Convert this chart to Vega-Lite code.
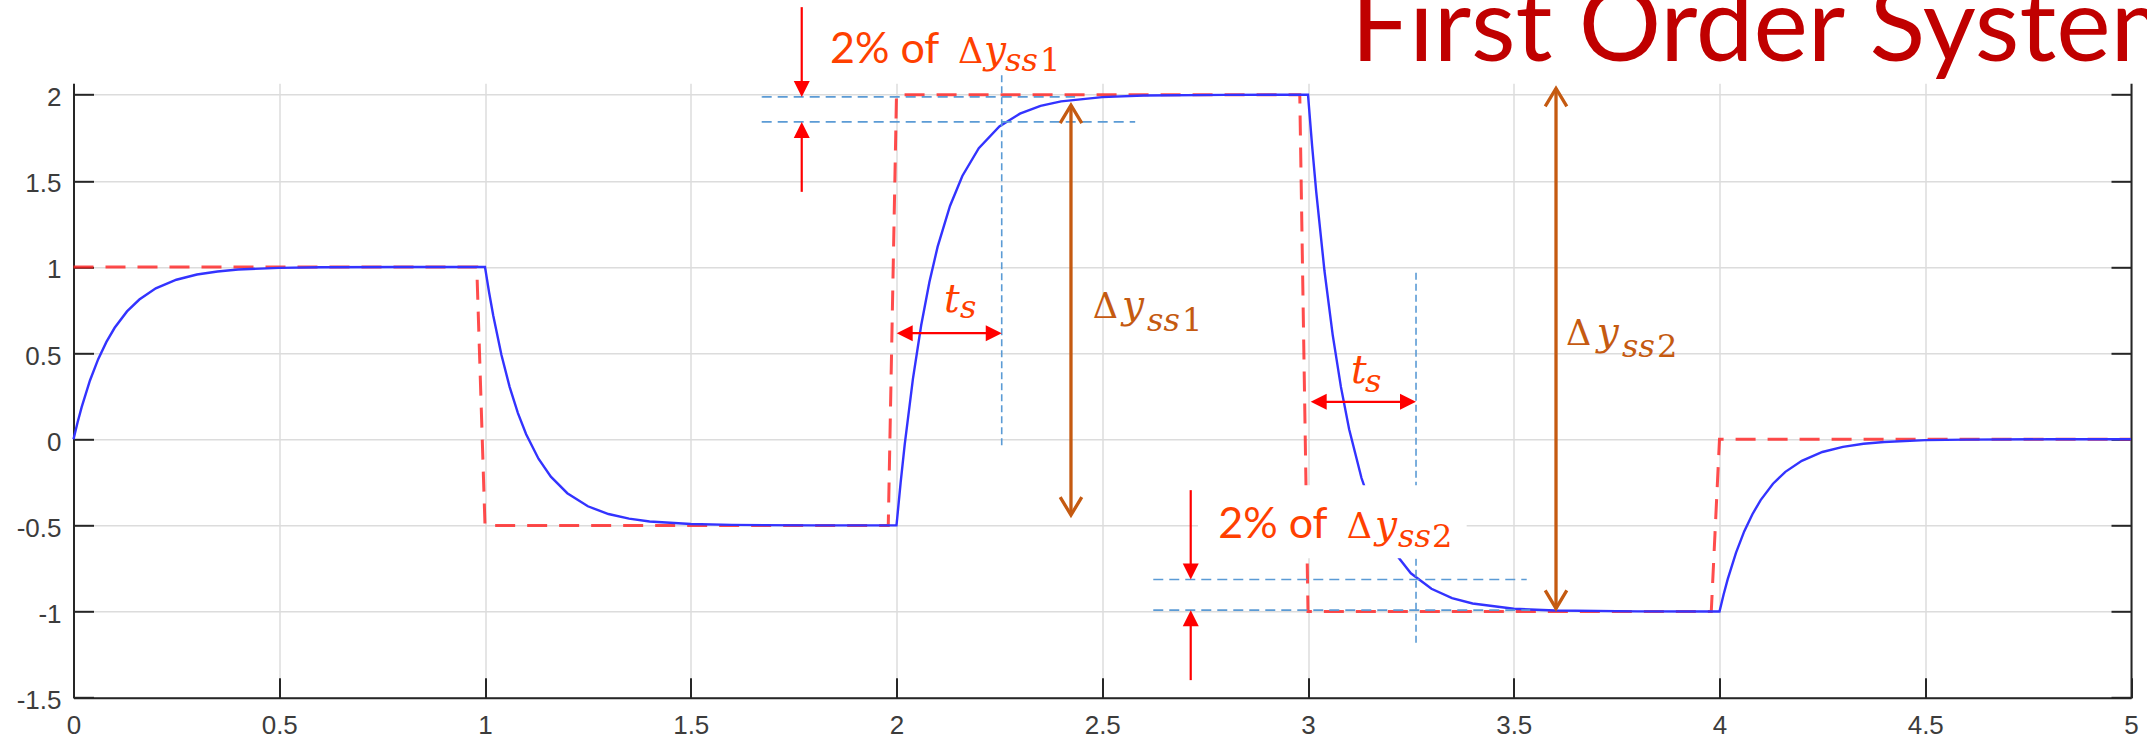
{
  "$schema": "https://vega.github.io/schema/vega-lite/v6.json",
  "autosize": {"type": "none"},
  "width": 2057.5,
  "height": 614.4,
  "padding": {"left": 73.5, "top": 83.3, "right": 16, "bottom": 45.3},
  "background": "white",
  "config": {"view": {"stroke": null}},
  "resolve": {"axis": {"y": "independent"}},
  "datasets": {
    "input": [
      {"t": 0, "u": 1}, {"t": 0.98, "u": 1}, {"t": 1.0, "u": -0.5}, {"t": 1.98, "u": -0.5},
      {"t": 2.0, "u": 2}, {"t": 2.98, "u": 2}, {"t": 3.0, "u": -1}, {"t": 3.98, "u": -1},
      {"t": 4.0, "u": 0}, {"t": 5.0, "u": 0}
    ],
    "resp": [
      {"t": 0, "y": 0}, {"t": 0.01, "y": 0.099}, {"t": 0.02, "y": 0.188}, {"t": 0.04, "y": 0.341},
      {"t": 0.06, "y": 0.465}, {"t": 0.08, "y": 0.565}, {"t": 0.1, "y": 0.647}, {"t": 0.13, "y": 0.742},
      {"t": 0.16, "y": 0.811}, {"t": 0.2, "y": 0.876}, {"t": 0.25, "y": 0.926}, {"t": 0.3, "y": 0.956},
      {"t": 0.35, "y": 0.974}, {"t": 0.4, "y": 0.985}, {"t": 0.5, "y": 0.995}, {"t": 0.6, "y": 0.998},
      {"t": 0.8, "y": 1.0}, {"t": 1.0, "y": 1.0},
      {"t": 1.01, "y": 0.852}, {"t": 1.02, "y": 0.718}, {"t": 1.04, "y": 0.489}, {"t": 1.06, "y": 0.303},
      {"t": 1.08, "y": 0.152}, {"t": 1.1, "y": 0.029}, {"t": 1.13, "y": -0.113}, {"t": 1.16, "y": -0.217},
      {"t": 1.2, "y": -0.313}, {"t": 1.25, "y": -0.389}, {"t": 1.3, "y": -0.434}, {"t": 1.35, "y": -0.461},
      {"t": 1.4, "y": -0.477}, {"t": 1.5, "y": -0.492}, {"t": 1.6, "y": -0.497}, {"t": 1.8, "y": -0.5},
      {"t": 2.0, "y": -0.5},
      {"t": 2.01, "y": -0.253}, {"t": 2.02, "y": -0.03}, {"t": 2.04, "y": 0.352}, {"t": 2.06, "y": 0.662},
      {"t": 2.08, "y": 0.913}, {"t": 2.1, "y": 1.118}, {"t": 2.13, "y": 1.354}, {"t": 2.16, "y": 1.528},
      {"t": 2.2, "y": 1.689}, {"t": 2.25, "y": 1.815}, {"t": 2.3, "y": 1.89}, {"t": 2.35, "y": 1.935},
      {"t": 2.4, "y": 1.961}, {"t": 2.5, "y": 1.986}, {"t": 2.6, "y": 1.995}, {"t": 2.8, "y": 1.999},
      {"t": 3.0, "y": 2.0},
      {"t": 3.01, "y": 1.703}, {"t": 3.02, "y": 1.436}, {"t": 3.04, "y": 0.978}, {"t": 3.06, "y": 0.606},
      {"t": 3.08, "y": 0.304}, {"t": 3.1, "y": 0.058}, {"t": 3.13, "y": -0.225}, {"t": 3.16, "y": -0.433},
      {"t": 3.2, "y": -0.626}, {"t": 3.25, "y": -0.778}, {"t": 3.3, "y": -0.868}, {"t": 3.35, "y": -0.922},
      {"t": 3.4, "y": -0.953}, {"t": 3.5, "y": -0.984}, {"t": 3.6, "y": -0.994}, {"t": 3.8, "y": -0.999},
      {"t": 4.0, "y": -1.0},
      {"t": 4.01, "y": -0.901}, {"t": 4.02, "y": -0.812}, {"t": 4.04, "y": -0.659}, {"t": 4.06, "y": -0.535},
      {"t": 4.08, "y": -0.435}, {"t": 4.1, "y": -0.353}, {"t": 4.13, "y": -0.258}, {"t": 4.16, "y": -0.189},
      {"t": 4.2, "y": -0.125}, {"t": 4.25, "y": -0.074}, {"t": 4.3, "y": -0.044}, {"t": 4.35, "y": -0.026},
      {"t": 4.4, "y": -0.016}, {"t": 4.5, "y": -0.005}, {"t": 4.6, "y": -0.002}, {"t": 4.8, "y": 0.0},
      {"t": 5.0, "y": 0.0}
    ],
    "guides": [
      {"x1": 1.6724, "x2": 2.434, "y1": 1.987, "y2": 1.987, "o": "h"},
      {"x1": 1.6724, "x2": 2.58, "y1": 1.842, "y2": 1.842, "o": "h"},
      {"x1": 2.624, "x2": 3.5315, "y1": -0.814, "y2": -0.814, "o": "h"},
      {"x1": 2.624, "x2": 3.54, "y1": -0.992, "y2": -0.992, "o": "h"},
      {"x1": 2.2557, "x2": 2.2557, "y1": 2.113, "y2": -0.044, "o": "v"},
      {"x1": 3.2625, "x2": 3.2625, "y1": 0.966, "y2": -1.185, "o": "v"}
    ],
    "mask": [
      {"x1": 2.7326, "x2": 3.3856, "y1": -0.2664, "y2": -0.69}
    ],
    "shafts": [
      {"x1": 1.7697, "x2": 1.7697, "y1": 2.508, "y2": 2.05, "kind": "arrow"},
      {"x1": 1.7697, "x2": 1.7697, "y1": 1.436, "y2": 1.8, "kind": "arrow"},
      {"x1": 2.02, "x2": 2.235, "y1": 0.616, "y2": 0.616, "kind": "arrow"},
      {"x1": 3.026, "x2": 3.242, "y1": 0.217, "y2": 0.217, "kind": "arrow"},
      {"x1": 2.715, "x2": 2.715, "y1": -0.2954, "y2": -0.77, "kind": "arrow"},
      {"x1": 2.715, "x2": 2.715, "y1": -1.398, "y2": -1.03, "kind": "arrow"},
      {"x1": 2.424, "x2": 2.424, "y1": 1.939, "y2": -0.44, "kind": "delta"},
      {"x1": 3.6027, "x2": 3.6027, "y1": 2.036, "y2": -0.982, "kind": "delta"}
    ],
    "heads": [
      {"t": 1.7697, "y": 1.987, "dir": "down"},
      {"t": 1.7697, "y": 1.842, "dir": "up"},
      {"t": 2.0005, "y": 0.616, "dir": "left"},
      {"t": 2.2557, "y": 0.616, "dir": "right"},
      {"t": 3.0065, "y": 0.217, "dir": "left"},
      {"t": 3.2625, "y": 0.217, "dir": "right"},
      {"t": 2.715, "y": -0.8137, "dir": "down"},
      {"t": 2.715, "y": -0.992, "dir": "up"}
    ],
    "chevrons": [
      {"t": 2.424, "y": 1.939, "dir": "up"},
      {"t": 2.424, "y": -0.44, "dir": "down"},
      {"t": 3.6027, "y": 2.036, "dir": "up"},
      {"t": 3.6027, "y": -0.982, "dir": "down"}
    ],
    "notes": [
      {"t": 3.1045, "y": 2.194, "s": "First Order System", "part": "title", "kind": "title"},
      {"t": 1.8384, "y": 2.181, "s": "2% of", "part": "sans", "kind": "note"},
      {"t": 2.1495, "y": 2.181, "s": "Δ", "part": "up", "kind": "note"},
      {"t": 2.2126, "y": 2.181, "s": "y", "part": "it", "kind": "note"},
      {"t": 2.2636, "y": 2.136, "s": "ss", "part": "subit", "kind": "note"},
      {"t": 2.3487, "y": 2.136, "s": "1", "part": "subup", "kind": "note"},
      {"t": 2.4768, "y": 0.701, "s": "Δ", "part": "up", "kind": "delta"},
      {"t": 2.548, "y": 0.701, "s": "y", "part": "it", "kind": "delta"},
      {"t": 2.6088, "y": 0.629, "s": "ss", "part": "subit", "kind": "delta"},
      {"t": 2.6937, "y": 0.629, "s": "1", "part": "subup", "kind": "delta"},
      {"t": 3.627, "y": 0.546, "s": "Δ", "part": "up", "kind": "delta"},
      {"t": 3.7016, "y": 0.546, "s": "y", "part": "it", "kind": "delta"},
      {"t": 3.7631, "y": 0.478, "s": "ss", "part": "subit", "kind": "delta"},
      {"t": 3.8481, "y": 0.478, "s": "2", "part": "subup", "kind": "delta"},
      {"t": 2.782, "y": -0.5757, "s": "2% of", "part": "sans", "kind": "note"},
      {"t": 3.094, "y": -0.5757, "s": "Δ", "part": "up", "kind": "note"},
      {"t": 3.1628, "y": -0.5757, "s": "y", "part": "it", "kind": "note"},
      {"t": 3.2187, "y": -0.628, "s": "ss", "part": "subit", "kind": "note"},
      {"t": 3.3013, "y": -0.628, "s": "2", "part": "subup", "kind": "note"},
      {"t": 2.1154, "y": 0.7394, "s": "t", "part": "it", "kind": "note"},
      {"t": 2.1543, "y": 0.7028, "s": "s", "part": "subit", "kind": "note"},
      {"t": 3.1045, "y": 0.3239, "s": "t", "part": "it", "kind": "note"},
      {"t": 3.1385, "y": 0.2751, "s": "s", "part": "subit", "kind": "note"}
    ]
  },
  "layer": [
    {
      "data": {"name": "input"},
      "mark": {"type": "line", "color": "#ff1f1f", "strokeWidth": 3, "strokeDash": [20, 12], "opacity": 0.8},
      "encoding": {
        "x": {"field": "t", "type": "quantitative", "title": null,
              "scale": {"domain": [0, 5], "nice": false, "zero": false},
              "axis": {"orient": "bottom", "values": [0, 0.5, 1, 1.5, 2, 2.5, 3, 3.5, 4, 4.5, 5],
                       "labelExpr": "'' + datum.value", "grid": true, "gridColor": "#dcdcdc", "gridWidth": 1.5,
                       "domainColor": "#262626", "domainWidth": 2, "tickColor": "#262626", "tickWidth": 2,
                       "tickSize": -20, "labelFont": "Liberation Sans", "labelFontSize": 26, "labelColor": "#3c3c3c",
                       "labelPadding": 35, "labelFlush": false, "labelOverlap": false}},
        "y": {"field": "u", "type": "quantitative", "title": null,
              "scale": {"domain": [-1.5, 2.066], "nice": false, "zero": false},
              "axis": {"orient": "left", "values": [-1.5, -1, -0.5, 0, 0.5, 1, 1.5, 2],
                       "labelExpr": "'' + datum.value", "grid": true, "gridColor": "#dcdcdc", "gridWidth": 1.5,
                       "domainColor": "#262626", "domainWidth": 2, "tickColor": "#262626", "tickWidth": 2,
                       "tickSize": -20, "labelFont": "Liberation Sans", "labelFontSize": 26, "labelColor": "#3c3c3c",
                       "labelPadding": 32.5, "labelOffset": 3, "labelFlush": false, "labelOverlap": false}}
      }
    },
    {
      "data": {"name": "resp"},
      "mark": {"type": "line", "color": "#3333ff", "strokeWidth": 2.4},
      "encoding": {
        "x": {"field": "t", "type": "quantitative", "title": null, "scale": {"domain": [0, 5], "nice": false, "zero": false}},
        "y": {"field": "y", "type": "quantitative", "title": null,
              "scale": {"domain": [-1.5, 2.066], "nice": false, "zero": false},
              "axis": {"orient": "right", "values": [-1.5, -1, -0.5, 0, 0.5, 1, 1.5, 2], "labels": false, "grid": false,
                       "domainColor": "#262626", "domainWidth": 2, "tickColor": "#262626", "tickWidth": 2, "tickSize": -20}}
      }
    },
    {
      "data": {"name": "guides"},
      "mark": {"type": "rule", "color": "#5b9bd5", "strokeWidth": 1.6},
      "encoding": {
        "x": {"field": "x1", "type": "quantitative", "title": null, "scale": {"domain": [0, 5], "nice": false, "zero": false}},
        "x2": {"field": "x2"},
        "y": {"field": "y1", "type": "quantitative", "title": null, "axis": null, "scale": {"domain": [-1.5, 2.066], "nice": false, "zero": false}},
        "y2": {"field": "y2"},
        "strokeDash": {"field": "o", "type": "nominal", "legend": null, "scale": {"domain": ["h", "v"], "range": [[10, 6], [7, 4]]}}
      }
    },
    {
      "data": {"name": "mask"},
      "mark": {"type": "rect", "color": "white", "opacity": 1},
      "encoding": {
        "x": {"field": "x1", "type": "quantitative", "title": null, "scale": {"domain": [0, 5], "nice": false, "zero": false}},
        "x2": {"field": "x2"},
        "y": {"field": "y1", "type": "quantitative", "title": null, "axis": null, "scale": {"domain": [-1.5, 2.066], "nice": false, "zero": false}},
        "y2": {"field": "y2"}
      }
    },
    {
      "data": {"name": "shafts"},
      "transform": [{"filter": "datum.kind === 'arrow'"}],
      "mark": {"type": "rule", "color": "#ff0000", "strokeWidth": 2.2},
      "encoding": {
        "x": {"field": "x1", "type": "quantitative", "title": null, "scale": {"domain": [0, 5], "nice": false, "zero": false}},
        "x2": {"field": "x2"},
        "y": {"field": "y1", "type": "quantitative", "title": null, "axis": null, "scale": {"domain": [-1.5, 2.066], "nice": false, "zero": false}},
        "y2": {"field": "y2"}
      }
    },
    {
      "data": {"name": "shafts"},
      "transform": [{"filter": "datum.kind === 'delta'"}],
      "mark": {"type": "rule", "color": "#c55a11", "strokeWidth": 3.3},
      "encoding": {
        "x": {"field": "x1", "type": "quantitative", "title": null, "scale": {"domain": [0, 5], "nice": false, "zero": false}},
        "x2": {"field": "x2"},
        "y": {"field": "y1", "type": "quantitative", "title": null, "axis": null, "scale": {"domain": [-1.5, 2.066], "nice": false, "zero": false}},
        "y2": {"field": "y2"}
      }
    },
    {
      "data": {"name": "heads"},
      "mark": {"type": "point", "filled": true, "color": "#ff0000", "opacity": 1, "size": 1024, "strokeWidth": 0},
      "encoding": {
        "x": {"field": "t", "type": "quantitative", "title": null, "scale": {"domain": [0, 5], "nice": false, "zero": false}},
        "y": {"field": "y", "type": "quantitative", "title": null, "axis": null, "scale": {"domain": [-1.5, 2.066], "nice": false, "zero": false}},
        "shape": {"field": "dir", "type": "nominal", "legend": null,
                  "scale": {"domain": ["up", "down", "left", "right"],
                            "range": ["M0,0L-0.5,1L0.5,1Z", "M0,0L-0.5,-1L0.5,-1Z", "M0,0L1,-0.5L1,0.5Z", "M0,0L-1,-0.5L-1,0.5Z"]}}
      }
    },
    {
      "data": {"name": "chevrons"},
      "transform": [{"filter": "datum.dir === 'up'"}],
      "mark": {"type": "point", "shape": "M-0.6,1L0,0L0.6,1", "filled": false, "color": "#c55a11", "opacity": 1, "size": 1296, "strokeWidth": 3.3, "angle": 0},
      "encoding": {
        "x": {"field": "t", "type": "quantitative", "title": null, "scale": {"domain": [0, 5], "nice": false, "zero": false}},
        "y": {"field": "y", "type": "quantitative", "title": null, "axis": null, "scale": {"domain": [-1.5, 2.066], "nice": false, "zero": false}}
      }
    },
    {
      "data": {"name": "chevrons"},
      "transform": [{"filter": "datum.dir === 'down'"}],
      "mark": {"type": "point", "shape": "M-0.6,1L0,0L0.6,1", "filled": false, "color": "#c55a11", "opacity": 1, "size": 1296, "strokeWidth": 3.3, "angle": 180},
      "encoding": {
        "x": {"field": "t", "type": "quantitative", "title": null, "scale": {"domain": [0, 5], "nice": false, "zero": false}},
        "y": {"field": "y", "type": "quantitative", "title": null, "axis": null, "scale": {"domain": [-1.5, 2.066], "nice": false, "zero": false}}
      }
    },
    {
      "data": {"name": "notes"},
      "transform": [{"filter": "datum.part === 'title'"}],
      "mark": {"type": "text", "font": "Lato", "fontSize": 103, "align": "left", "baseline": "alphabetic"},
      "encoding": {
        "x": {"field": "t", "type": "quantitative", "title": null, "scale": {"domain": [0, 5], "nice": false, "zero": false}},
        "y": {"field": "y", "type": "quantitative", "title": null, "axis": null, "scale": {"domain": [-1.5, 2.066], "nice": false, "zero": false}},
        "text": {"field": "s"},
        "color": {"field": "kind", "type": "nominal", "legend": null, "scale": {"domain": ["note", "delta", "title"], "range": ["#ff4000", "#c55a11", "#c00000"]}}
      }
    },
    {
      "data": {"name": "notes"},
      "transform": [{"filter": "datum.part === 'sans'"}],
      "mark": {"type": "text", "font": "Lato", "fontSize": 43, "align": "left", "baseline": "alphabetic"},
      "encoding": {
        "x": {"field": "t", "type": "quantitative", "title": null, "scale": {"domain": [0, 5], "nice": false, "zero": false}},
        "y": {"field": "y", "type": "quantitative", "title": null, "axis": null, "scale": {"domain": [-1.5, 2.066], "nice": false, "zero": false}},
        "text": {"field": "s"},
        "color": {"field": "kind", "type": "nominal", "legend": null, "scale": {"domain": ["note", "delta", "title"], "range": ["#ff4000", "#c55a11", "#c00000"]}}
      }
    },
    {
      "data": {"name": "notes"},
      "transform": [{"filter": "datum.part === 'up'"}],
      "mark": {"type": "text", "font": "DejaVu Serif", "fontSize": 35, "align": "left", "baseline": "alphabetic"},
      "encoding": {
        "x": {"field": "t", "type": "quantitative", "title": null, "scale": {"domain": [0, 5], "nice": false, "zero": false}},
        "y": {"field": "y", "type": "quantitative", "title": null, "axis": null, "scale": {"domain": [-1.5, 2.066], "nice": false, "zero": false}},
        "text": {"field": "s"},
        "color": {"field": "kind", "type": "nominal", "legend": null, "scale": {"domain": ["note", "delta", "title"], "range": ["#ff4000", "#c55a11", "#c00000"]}}
      }
    },
    {
      "data": {"name": "notes"},
      "transform": [{"filter": "datum.part === 'it'"}],
      "mark": {"type": "text", "font": "DejaVu Serif", "fontStyle": "italic", "fontSize": 39, "align": "left", "baseline": "alphabetic"},
      "encoding": {
        "x": {"field": "t", "type": "quantitative", "title": null, "scale": {"domain": [0, 5], "nice": false, "zero": false}},
        "y": {"field": "y", "type": "quantitative", "title": null, "axis": null, "scale": {"domain": [-1.5, 2.066], "nice": false, "zero": false}},
        "text": {"field": "s"},
        "color": {"field": "kind", "type": "nominal", "legend": null, "scale": {"domain": ["note", "delta", "title"], "range": ["#ff4000", "#c55a11", "#c00000"]}}
      }
    },
    {
      "data": {"name": "notes"},
      "transform": [{"filter": "datum.part === 'subit'"}],
      "mark": {"type": "text", "font": "DejaVu Serif", "fontStyle": "italic", "fontSize": 32, "align": "left", "baseline": "alphabetic"},
      "encoding": {
        "x": {"field": "t", "type": "quantitative", "title": null, "scale": {"domain": [0, 5], "nice": false, "zero": false}},
        "y": {"field": "y", "type": "quantitative", "title": null, "axis": null, "scale": {"domain": [-1.5, 2.066], "nice": false, "zero": false}},
        "text": {"field": "s"},
        "color": {"field": "kind", "type": "nominal", "legend": null, "scale": {"domain": ["note", "delta", "title"], "range": ["#ff4000", "#c55a11", "#c00000"]}}
      }
    },
    {
      "data": {"name": "notes"},
      "transform": [{"filter": "datum.part === 'subup'"}],
      "mark": {"type": "text", "font": "DejaVu Serif", "fontSize": 32, "align": "left", "baseline": "alphabetic"},
      "encoding": {
        "x": {"field": "t", "type": "quantitative", "title": null, "scale": {"domain": [0, 5], "nice": false, "zero": false}},
        "y": {"field": "y", "type": "quantitative", "title": null, "axis": null, "scale": {"domain": [-1.5, 2.066], "nice": false, "zero": false}},
        "text": {"field": "s"},
        "color": {"field": "kind", "type": "nominal", "legend": null, "scale": {"domain": ["note", "delta", "title"], "range": ["#ff4000", "#c55a11", "#c00000"]}}
      }
    }
  ]
}
